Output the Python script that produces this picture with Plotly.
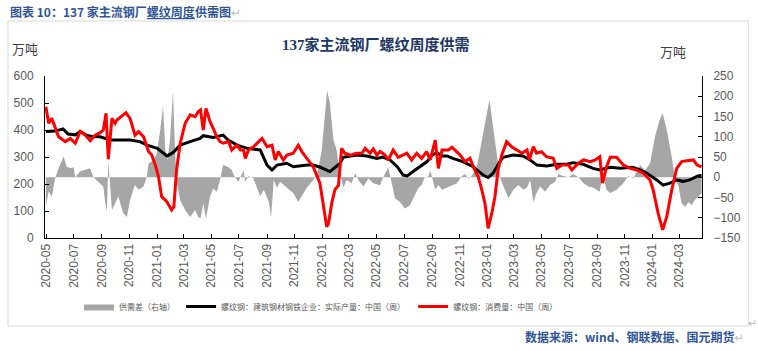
import plotly.graph_objects as go

# ---------------- data ----------------
prod_dates = ["2020-04-30","2020-05-20","2020-06-07","2020-06-18","2020-07-04","2020-07-15","2020-07-28","2020-08-10","2020-08-28","2020-09-19",
              "2020-10-11","2020-11-02","2020-11-24","2020-12-10","2021-01-01","2021-01-14","2021-01-23","2021-02-05","2021-02-21","2021-03-15",
              "2021-04-06","2021-04-13","2021-05-05","2021-05-27","2021-06-07","2021-06-27","2021-07-19","2021-08-17","2021-09-01","2021-09-12",
              "2021-09-23","2021-10-15","2021-10-29","2021-11-29","2021-12-12","2021-12-28","2022-01-18","2022-02-10","2022-02-16","2022-03-19",
              "2022-04-10","2022-05-02","2022-05-15","2022-05-31","2022-06-16","2022-06-29","2022-07-08","2022-07-21","2022-08-05","2022-08-21",
              "2022-09-01","2022-09-12","2022-09-23","2022-10-04","2022-10-17","2022-11-08","2022-12-01","2022-12-23","2023-01-03","2023-01-14",
              "2023-01-29","2023-02-05","2023-02-27","2023-03-21","2023-04-06","2023-04-21","2023-05-13","2023-06-04","2023-06-26","2023-07-10",
              "2023-08-01","2023-08-23","2023-09-07","2023-09-30","2023-10-22","2023-11-19","2023-12-05","2023-12-20","2024-01-11","2024-01-25",
              "2024-02-09","2024-02-25","2024-03-09","2024-03-24","2024-04-11","2024-04-19"]
prod_vals = [394,396,404,385,382,394,381,376,375,363,
             363,363,357,344,332,315,304,316,344,357,
             369,379,372,381,363,344,332,326,270,252,
             270,277,264,270,270,262,246,277,299,307,
             304,295,300,289,264,233,230,246,264,283,
             307,316,304,304,295,283,264,233,224,240,
             283,299,307,304,289,270,267,273,273,279,
             273,258,252,262,258,262,252,240,215,196,
             203,215,209,215,230,232]

cons_dates = ["2020-04-30","2020-05-06","2020-05-13","2020-05-20","2020-05-28","2020-06-12","2020-06-23","2020-07-04","2020-07-15","2020-07-26",
              "2020-08-06","2020-08-17","2020-08-28","2020-09-04","2020-09-10","2020-09-15","2020-09-23","2020-09-30","2020-10-04","2020-10-18",
              "2020-10-24","2020-11-02","2020-11-13","2020-11-21","2020-12-02","2020-12-13","2020-12-20","2020-12-28","2021-01-04","2021-01-11",
              "2021-01-22","2021-02-02","2021-02-07","2021-02-13","2021-02-21","2021-03-04","2021-03-15","2021-03-26","2021-04-02","2021-04-07",
              "2021-04-13","2021-04-19","2021-04-28","2021-05-05","2021-05-13","2021-05-20","2021-05-27","2021-06-08","2021-06-15","2021-06-26",
              "2021-07-04","2021-07-11","2021-07-15","2021-07-22","2021-08-02","2021-08-21","2021-09-01","2021-09-12","2021-09-19","2021-09-26",
              "2021-10-07","2021-10-15","2021-10-29","2021-11-09","2021-11-17","2021-11-28","2021-12-12","2021-12-27","2022-01-04","2022-01-11",
              "2022-01-15","2022-01-22","2022-01-29","2022-02-06","2022-02-13","2022-02-20","2022-03-04","2022-03-18","2022-03-30","2022-04-06",
              "2022-04-17","2022-04-24","2022-05-02","2022-05-09","2022-05-20","2022-05-27","2022-06-07","2022-06-18","2022-07-07","2022-07-18",
              "2022-07-29","2022-08-09","2022-08-20","2022-08-28","2022-09-08","2022-09-15","2022-09-23","2022-10-07","2022-10-15","2022-11-02",
              "2022-11-13","2022-11-24","2022-12-01","2022-12-12","2022-12-20","2022-12-27","2023-01-03","2023-01-11","2023-01-18","2023-01-25",
              "2023-02-02","2023-02-13","2023-02-24","2023-03-08","2023-03-19","2023-03-30","2023-04-04","2023-04-13","2023-04-20","2023-05-01",
              "2023-05-12","2023-05-27","2023-06-04","2023-06-15","2023-06-30","2023-07-07","2023-07-22","2023-08-02","2023-08-17","2023-08-28",
              "2023-09-07","2023-09-13","2023-09-22","2023-09-30","2023-10-14","2023-10-29","2023-11-13","2023-11-28","2023-12-12","2023-12-27",
              "2024-01-03","2024-01-14","2024-01-24","2024-02-02","2024-02-13","2024-02-24","2024-03-06","2024-03-17","2024-04-01","2024-04-09",
              "2024-04-19"]
cons_vals = [486,425,443,412,375,357,369,351,395,381,
             360,381,390,400,462,292,443,425,437,456,
             464,443,381,394,375,320,307,270,227,153,
             135,104,116,252,351,425,456,449,468,474,
             400,480,431,406,375,357,351,357,326,344,
             326,326,295,326,338,369,338,344,289,320,
             289,307,314,344,320,295,264,203,116,42,
             54,128,178,196,332,314,307,314,314,332,
             314,330,307,320,307,289,326,299,314,289,
             314,295,320,289,363,258,326,326,336,307,
             283,295,264,227,178,128,36,91,153,252,
             307,357,338,326,314,326,289,338,314,320,
             301,295,258,270,270,252,277,289,283,289,
             301,203,264,299,299,270,258,252,240,215,
             178,91,30,79,178,258,283,286,289,270,
             264]

gap_dates = ["2020-04-30","2020-05-06","2020-05-13","2020-05-20","2020-05-27","2020-06-01","2020-06-08","2020-06-15","2020-06-23","2020-06-30",
             "2020-07-04","2020-07-15","2020-07-26","2020-08-06","2020-08-13","2020-08-28","2020-09-04","2020-09-08","2020-09-12","2020-09-15",
             "2020-09-23","2020-09-30","2020-10-07","2020-10-18","2020-10-26","2020-11-02","2020-11-13","2020-11-21","2020-12-02","2020-12-09",
             "2020-12-13","2020-12-24","2020-12-31","2021-01-08","2021-01-14","2021-01-19","2021-01-24","2021-01-30","2021-02-05","2021-02-10",
             "2021-02-13","2021-02-21","2021-03-04","2021-03-15","2021-03-26","2021-04-02","2021-04-07","2021-04-13","2021-04-19","2021-04-28",
             "2021-05-05","2021-05-13","2021-05-20","2021-05-27","2021-06-08","2021-06-15","2021-06-22","2021-06-30","2021-07-11","2021-07-15",
             "2021-07-22","2021-08-02","2021-08-17","2021-08-25","2021-09-05","2021-09-10","2021-09-16","2021-09-23","2021-09-30","2021-10-15",
             "2021-10-29","2021-11-09","2021-11-17","2021-11-28","2021-12-12","2021-12-23","2021-12-31","2022-01-07","2022-01-12","2022-01-18",
             "2022-01-26","2022-02-02","2022-02-08","2022-02-17","2022-02-24","2022-03-07","2022-03-15","2022-03-22","2022-04-02","2022-04-13",
             "2022-04-24","2022-05-09","2022-05-16","2022-05-24","2022-05-27","2022-06-04","2022-06-11","2022-06-22","2022-07-03","2022-07-14",
             "2022-07-25","2022-08-02","2022-08-09","2022-08-16","2022-08-24","2022-08-28","2022-09-08","2022-09-15","2022-09-23","2022-10-03",
             "2022-10-15","2022-10-26","2022-11-06","2022-11-13","2022-11-20","2022-11-28","2022-12-09","2022-12-16","2022-12-27","2023-01-06",
             "2023-01-14","2023-01-22","2023-01-29","2023-02-06","2023-02-17","2023-02-28","2023-03-11","2023-03-22","2023-03-30","2023-04-06",
             "2023-04-13","2023-04-20","2023-04-28","2023-05-09","2023-05-20","2023-05-31","2023-06-07","2023-06-18","2023-06-30","2023-07-10",
             "2023-07-22","2023-08-02","2023-08-13","2023-08-24","2023-09-07","2023-09-13","2023-09-22","2023-09-30","2023-10-14","2023-10-29",
             "2023-11-09","2023-11-20","2023-12-05","2023-12-16","2023-12-27","2024-01-07","2024-01-17","2024-01-24","2024-02-02","2024-02-13",
             "2024-02-20","2024-02-28","2024-03-06","2024-03-14","2024-03-21","2024-03-28","2024-04-04","2024-04-12","2024-04-19"]
gap_vals = [-73,-35,-48,-5,20,35,51,26,22,25,
            0,15,18,22,0,-17,-23,-61,-85,42,
            -81,-65,-47,-89,-98,-57,-19,-31,-23,0,
            34,42,58,117,176,67,42,100,211,58,
            -7,-57,-81,-98,-81,-98,-102,-65,-102,-48,
            -28,-36,-7,30,25,17,0,-11,17,-11,
            3,-3,-47,-31,-61,-98,-7,-26,-11,-26,
            -39,-61,-47,-26,-7,17,67,158,214,183,
            92,67,17,-26,-7,-15,10,-7,-23,-3,
            -15,-20,0,17,25,-15,-52,-61,-77,-69,
            -44,-26,-19,0,2,17,-31,-19,-31,-26,
            -19,-15,3,8,-3,3,25,67,141,192,
            125,51,0,-23,-52,-31,-19,-31,-26,-7,
            -61,-39,-23,-36,-19,-11,8,3,0,8,
            0,-15,-23,-26,-36,8,-31,-39,-31,-15,
            3,-3,30,17,34,100,141,158,117,51,
            0,-23,-65,-73,-61,-69,-56,-48,-39]

names = ["供需差（右轴）", "螺纹钢：建筑钢材钢铁企业：实际产量：中国（周）", "螺纹钢：消费量：中国（周）"]
left_ticks = [0, 100, 200, 300, 400, 500, 600]
right_ticks = [-150, -100, -50, 0, 50, 100, 150, 200, 250]

# ---------------- layout helpers ----------------
W, H = 758, 351
PL, PR, PT, PB = 45, 701.7, 76, 238


def px(x):
    return (x - PL) / (PR - PL)


def py(y):
    return (PB - y) / (PB - PT)


CJK = "Noto Sans CJK SC, Liberation Sans, sans-serif"
NUM = "Liberation Sans, Arial, sans-serif"
GREY_TXT = "#595959"

fig = go.Figure()
fig.add_trace(go.Scatter(x=gap_dates, y=gap_vals, name=names[0], mode="lines",
                         line=dict(width=0, color="#A6A6A6"), fill="tozeroy",
                         fillcolor="#A6A6A6", yaxis="y", legend="legend"))
fig.add_trace(go.Scatter(x=prod_dates, y=prod_vals, name=names[1], mode="lines",
                         line=dict(width=3, color="#000000"), yaxis="y2", legend="legend2"))
fig.add_trace(go.Scatter(x=cons_dates, y=cons_vals, name=names[2], mode="lines",
                         line=dict(width=3, color="#FF0000"), yaxis="y2", legend="legend3"))

axis_common = dict(showgrid=False, zeroline=False, showline=True, linecolor="#000000",
                   linewidth=1, ticks="inside", ticklen=4, tickcolor="#000000",
                   tickfont=dict(family=NUM, size=12, color=GREY_TXT))

fig.update_layout(
    width=W, height=H,
    margin=dict(l=PL, r=W - PR, t=PT, b=H - PB, pad=0),
    paper_bgcolor="white", plot_bgcolor="white",
    xaxis=dict(type="date", range=["2020-04-28", "2024-04-20"], tick0="2020-05-01", dtick="M2",
               tickformat="%Y-%m", tickangle=-90, **axis_common),
    yaxis=dict(side="right", range=[-150, 250], tickvals=right_ticks, ticklabelstandoff=8,
               **axis_common),
    yaxis2=dict(side="left", overlaying="y", range=[0, 600], tickvals=left_ticks,
                ticklabelstandoff=8, **axis_common),
    showlegend=True,
)

leg_common = dict(orientation="h", bgcolor="rgba(0,0,0,0)", borderwidth=0,
                  font=dict(family=CJK, size=8, color=GREY_TXT),
                  xanchor="left", yanchor="middle", y=py(306.5))
fig.update_layout(legend=dict(x=px(79), **leg_common),
                  legend2=dict(x=px(181), **leg_common),
                  legend3=dict(x=px(413), **leg_common))

annos = [
    dict(x=px(8), y=py(11.5), xanchor="left", yanchor="middle",
         text="<b>图表 10：137 家主流钢厂<u>螺纹周度</u>供需图</b><span style='color:#BFBFBF'>↵</span>",
         font=dict(family=CJK, size=12, color="#2F5597")),
    dict(x=px(376), y=py(44), xanchor="center", yanchor="middle",
         text="<b>137家主流钢厂螺纹周度供需</b>",
         font=dict(family="Liberation Serif, Noto Sans CJK SC", size=15, color="#1F3864")),
    dict(x=px(25), y=py(48.5), xanchor="center", yanchor="middle", text="万吨",
         font=dict(family=CJK, size=13, color="#404040")),
    dict(x=px(673), y=py(51.5), xanchor="center", yanchor="middle", text="万吨",
         font=dict(family=CJK, size=13, color="#404040")),
    dict(x=px(523), y=py(336), xanchor="left", yanchor="middle",
         text="<b>数据来源：wind、钢联数据、国元期货</b><span style='color:#BFBFBF'>↵</span>",
         font=dict(family=CJK, size=12, color="#2F5597")),
    dict(x=px(752), y=py(322), xanchor="center", yanchor="middle", text="↵",
         font=dict(family=CJK, size=11, color="#BFBFBF")),
]
for a in annos:
    a.update(xref="paper", yref="paper", showarrow=False)
fig.update_layout(annotations=annos)

fig.add_shape(type="rect", xref="paper", yref="paper", x0=px(8), x1=px(748), y0=py(326), y1=py(21),
              line=dict(color="#D9D9D9", width=1), fillcolor="rgba(0,0,0,0)", layer="below")

fig.write_html("out.html")
